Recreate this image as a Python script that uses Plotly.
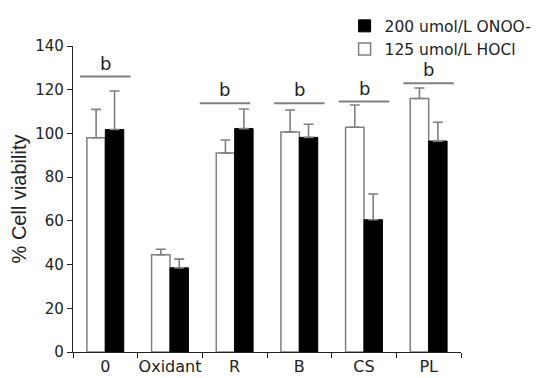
import plotly.graph_objects as go

categories = ["0", "Oxidant", "R", "B", "CS", "PL"]
hocl_values = [98, 44.5, 91, 100.7, 102.8, 116]
hocl_err = [13, 2.5, 6, 10, 10.2, 4.8]
onoo_values = [101.8, 38.5, 102.2, 98.2, 60.5, 96.5]
onoo_err = [17.6, 4, 9, 6, 11.8, 8.6]
sig_labels = ["b", "", "b", "b", "b", "b"]
sig_levels = [126, None, 113.8, 113.8, 114.6, 123]
y_ticks = [0, 20, 40, 60, 80, 100, 120, 140]

GRAY = "#808080"
TXT = "#222222"

fig = go.Figure()
fig.add_trace(go.Bar(
    name="125 umol/L HOCl", x=categories, y=hocl_values,
    marker=dict(color="white", line=dict(color=GRAY, width=1.5)),
    error_y=dict(type="data", array=hocl_err, arrayminus=[0]*len(hocl_err),
                 symmetric=False, color=GRAY, thickness=1.6, width=5),
))
fig.add_trace(go.Bar(
    name="200 umol/L ONOO-", x=categories, y=onoo_values,
    marker=dict(color="black", line=dict(color="black", width=1)),
    error_y=dict(type="data", array=onoo_err, arrayminus=[0]*len(onoo_err),
                 symmetric=False, color=GRAY, thickness=1.6, width=5),
))

# significance lines and labels
offsets = [0, 0, -0.15, 0, 0, 0]
half = 0.39
for i, (lab, lev) in enumerate(zip(sig_labels, sig_levels)):
    if not lab or lev is None:
        continue
    c = i + offsets[i]
    fig.add_shape(type="line", xref="x", yref="y", x0=c - half, x1=c + half,
                  y0=lev, y1=lev, line=dict(color=GRAY, width=2))
    fig.add_annotation(x=c, y=lev, xref="x", yref="y", text=lab, showarrow=False,
                       yanchor="bottom", yshift=1,
                       font=dict(family="DejaVu Sans", size=18, color=TXT))

fig.update_layout(
    width=536, height=370,
    margin=dict(l=65, r=83, t=38, b=26, autoexpand=False),
    paper_bgcolor="white", plot_bgcolor="white",
    barmode="group", bargap=0.43, bargroupgap=0,
    showlegend=True,
    legend=dict(x=0.70, y=1.12, xanchor="left", yanchor="top",
                traceorder="reversed", bgcolor="rgba(0,0,0,0)",
                font=dict(family="DejaVu Sans", size=15.5, color=TXT),
                itemwidth=30, tracegroupgap=0),
    font=dict(family="DejaVu Sans", color=TXT),
)
fig.update_xaxes(
    type="category", range=[-0.5, 5.5], showline=True, linecolor="#222",
    linewidth=1.3, ticks="outside", tickson="boundaries", ticklen=5,
    tickcolor="#222", tickwidth=1, showgrid=False, zeroline=False,
    tickangle=0, automargin=False,
    tickfont=dict(family="DejaVu Sans", size=16, color=TXT),
)
fig.update_yaxes(
    range=[0, 140], tickvals=y_ticks, showline=True, linecolor="#222",
    linewidth=1.3, ticks="outside", ticklen=5, tickcolor="#222", tickwidth=1,
    showgrid=False, zeroline=False, automargin=False,
    tickfont=dict(family="DejaVu Sans", size=15, color=TXT),
    title=dict(text="% Cell viability", standoff=7,
               font=dict(family="Liberation Sans", size=20, color=TXT)),
)

fig.write_html("out.html")
